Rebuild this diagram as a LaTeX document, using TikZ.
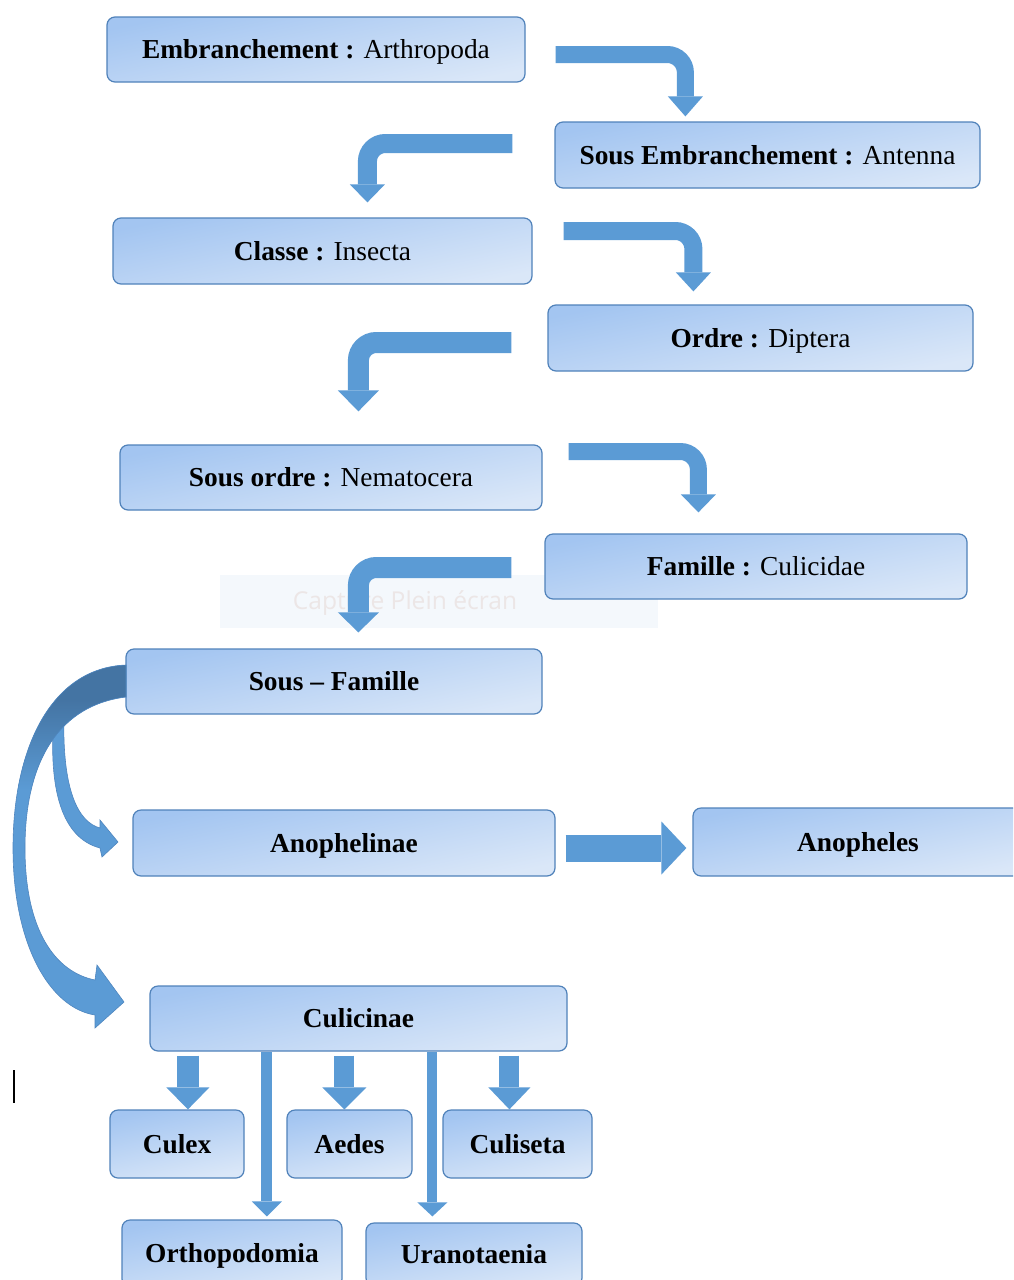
\documentclass[tikz,border=0pt]{standalone}
\usepackage{fontspec}
\setmainfont{Liberation Serif}
\newfontfamily\wmfont{Open Sans}
\usetikzlibrary{arrows.meta,calc}
\definecolor{arrblue}{HTML}{5B9BD5}
\definecolor{arrdark}{HTML}{4474A3}
\definecolor{arredge}{HTML}{4F86BF}
\definecolor{boxtop}{HTML}{A3C5F1}
\definecolor{boxbot}{HTML}{DAE7F8}
\definecolor{boxedge}{HTML}{5082BA}
\definecolor{wmbg}{HTML}{F4F8FC}
\definecolor{wmtext}{HTML}{ECE6E6}
\newcommand\bigarrpath{(126,665) .. controls (50,668) and (13,750) .. (13,848) .. controls (13,945) and (50,1008) .. (95,1015) -- (95,1028) -- (124,1002) -- (97,965) -- (95,980) .. controls (55,972) and (25,930) .. (25,848) .. controls (25,760) and (60,705) .. (126,697) -- cycle}
\begin{document}
\begin{tikzpicture}[x=0.5pt,y=-0.5pt,
  taxbox/.style={draw=boxedge, line width=0.6pt, rounded corners=4pt,
    top color=boxtop, bottom color=boxbot, shading angle=12,
    inner sep=0pt, text=black, text height=9.5pt, text depth=0.5pt,
    font=\fontsize{13.7}{16}\selectfont},
  blockarr/.style n args={3}{arrblue, line width=#1, rounded corners=9pt,
    -{Triangle[width=#2,length=#3,line width=0pt]}}]
\useasboundingbox (0,0) rectangle (1013,1280);
\clip (0,0) rectangle (1013,1280);
\fill[white] (0,0) rectangle (1013,1280);

% watermark
\fill[wmbg] (220,575) rectangle (658,628);
\node[text=wmtext, font=\wmfont\fontsize{12.3}{14}\selectfont, inner sep=0pt] (wm) at (405,603) {Capture Plein écran};

% boxes
\node[taxbox, minimum width=209pt, minimum height=32.5pt] (emb) at (316,49.5) {\textbf{Embranchement :} Arthropoda};
\node[taxbox, minimum width=212.5pt, minimum height=33pt] (sousemb) at (767.5,155) {\textbf{Sous Embranchement :} Antenna};
\node[taxbox, minimum width=209.5pt, minimum height=33pt] (classe) at (322.5,251) {\textbf{Classe :} Insecta};
\node[taxbox, minimum width=212.5pt, minimum height=33pt] (ordre) at (760.5,338) {\textbf{Ordre :} Diptera};
\node[taxbox, minimum width=211pt, minimum height=32.5pt] (sousordre) at (331,477.5) {\textbf{Sous ordre :} Nematocera};
\node[taxbox, minimum width=211pt, minimum height=32.5pt] (famille) at (756,566.5) {\textbf{Famille :} Culicidae};
\node[taxbox, minimum width=208pt, minimum height=32.5pt] (sousfam) at (334,681.5) {\textbf{Sous – Famille}};
\node[taxbox, minimum width=211pt, minimum height=33pt] (anophelinae) at (344,843) {\textbf{Anophelinae}};
\node[taxbox, minimum width=165pt, minimum height=34pt] (anopheles) at (858,842) {\textbf{Anopheles}};
\node[taxbox, minimum width=208.5pt, minimum height=32.5pt] (culicinae) at (358.5,1018.5) {\textbf{Culicinae}};
\node[taxbox, minimum width=67pt, minimum height=34pt] (culex) at (177,1144) {\textbf{Culex}};
\node[taxbox, minimum width=62.5pt, minimum height=34pt] (aedes) at (349.5,1144) {\textbf{Aedes}};
\node[taxbox, minimum width=74.5pt, minimum height=34pt] (culiseta) at (517.5,1144) {\textbf{Culiseta}};
\node[taxbox, minimum width=110pt, minimum height=33.5pt] (ortho) at (232,1253.5) {\textbf{Orthopodomia}};
\node[taxbox, minimum width=108pt, minimum height=31.5pt] (urano) at (474,1254.5) {\textbf{Uranotaenia}};

% bent arrows
\draw[blockarr={8.5pt}{17.5pt}{10pt}] ($(emb.east)+(30,5)$) -| ($(sousemb.north west)+(131,-5)$);
\draw[blockarr={9.5pt}{17.5pt}{9pt}] ($(sousemb.west)+(-42,-11.5)$) -| ($(classe.north west)+(255,-15)$);
\draw[blockarr={9pt}{17.5pt}{9.5pt}] ($(classe.east)+(31,-20)$) -| ($(ordre.north west)+(146,-13)$);
\draw[blockarr={10.5pt}{20.5pt}{10.5pt}] ($(ordre.west)+(-36,4.5)$) -| ($(sousordre.north west)+(239,-33)$);
\draw[blockarr={8.5pt}{17.5pt}{9pt}] ($(sousordre.east)+(26,-26)$) -| ($(famille.north west)+(154,-21)$);
\draw[blockarr={10.5pt}{20.5pt}{10pt}] ($(famille.west)+(-33,1)$) -| ($(sousfam.north west)+(233,-16)$);

% straight arrow
\draw[blockarr={13.5pt}{26.5pt}{12.5pt}] ($(anophelinae.east)+(10,5)$) -- ($(anopheles.west)+(-6,6)$);

% down arrows from Culicinae
\draw[blockarr={11pt}{21.5pt}{11pt}] ($(culicinae.south west)+(38.5,4)$) -- ($(culex.north west)+(78.5,0)$);
\draw[blockarr={10pt}{22pt}{11pt}] ($(culicinae.south west)+(195,4)$) -- ($(aedes.north west)+(58,0)$);
\draw[blockarr={10pt}{21pt}{11pt}] ($(culicinae.south west)+(360,4)$) -- ($(culiseta.north west)+(67,0)$);
\draw[blockarr={5.5pt}{15pt}{7.5pt}] ($(culicinae.south west)+(117.5,0.5)$) -- ($(ortho.north west)+(145.5,-3)$);
\draw[blockarr={5pt}{15pt}{7pt}] ($(culicinae.south west)+(283,0.5)$) -- ($(urano.north west)+(67,-6)$);

% curved arrows from Sous - Famille
\fill[arrblue, draw=arredge, line width=0.3pt] (54,715) .. controls (48,790) and (62,838) .. (100,848) -- (102,857) -- (118,842) -- (100,820) -- (100,828) .. controls (78,822) and (62,790) .. (64,715) -- cycle;
\begin{scope}
  \clip \bigarrpath;
  \fill[arrblue] (0,650) rectangle (140,1040);
  \fill[arrdark] (0,650) rectangle (140,700);
  \shade[top color=arrdark, bottom color=arrblue] (0,700) rectangle (140,790);
\end{scope}
\draw[arredge, line width=0.3pt] \bigarrpath;

% text cursor
\draw[black, line width=0.75pt] (14,1070) -- (14,1103);
\end{tikzpicture}
\end{document}
